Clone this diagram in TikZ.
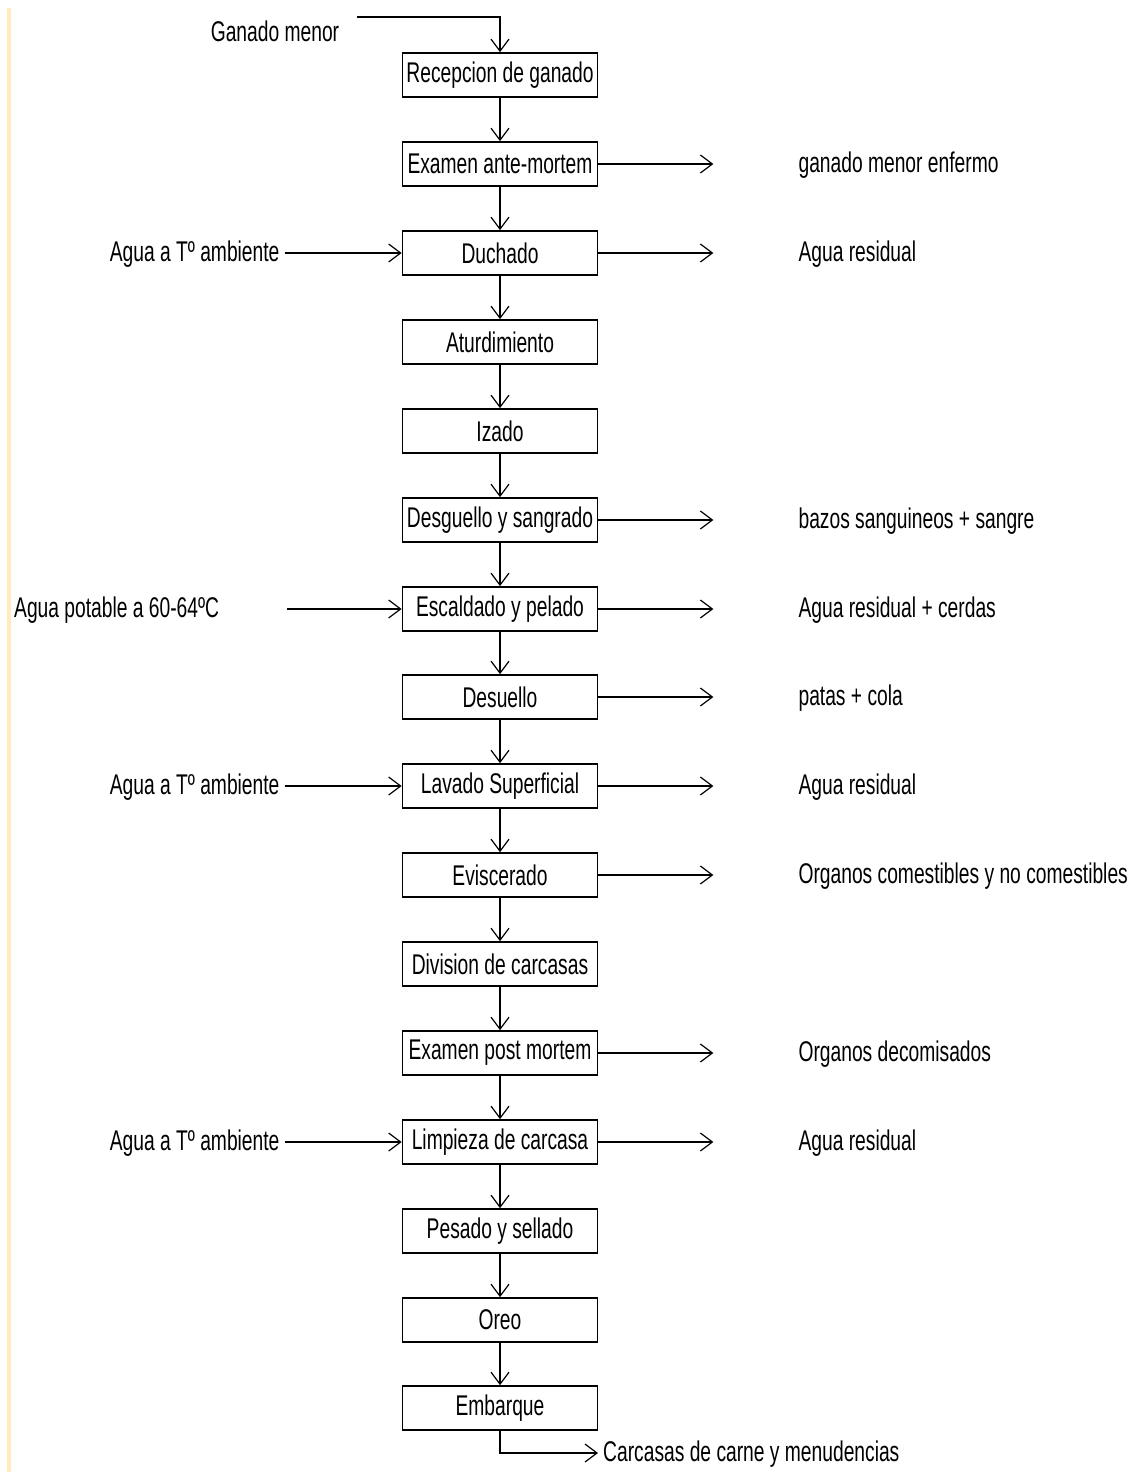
\documentclass[tikz,border=0pt]{standalone}
\usepackage{fontspec}
\setmainfont[FakeStretch=0.675]{Liberation Sans}
\usetikzlibrary{arrows.meta,calc}
\definecolor{edgeyellow}{HTML}{FFEDC0}
\begin{document}
\begin{tikzpicture}[x=1pt,y=-1pt,
  font=\fontsize{28.5}{32}\selectfont,
  proc/.style={draw, line width=1.7pt, minimum width=195pt, minimum height=44pt, inner sep=0pt, fill=white},
  flow/.style={line width=1.2pt, -{Straight Barb[length=12pt,width=18pt,line width=1.2pt]}},
  lab/.style={inner sep=0pt}]
\useasboundingbox (0,0) rectangle (1133,1472);
\fill[white] (0,0) rectangle (1133,1472);
\fill[edgeyellow] (6.5,8) rectangle (10.5,1472);
% process boxes
\node[proc] (b0)  at (500,75)   {Recepcion de ganado};
\node[proc] (b1)  at (500,164)  {Examen ante-mortem};
\node[proc] (b2)  at (500,253)  {Duchado};
\node[proc] (b3)  at (500,342)  {Aturdimiento};
\node[proc] (b4)  at (500,431)  {Izado};
\node[proc] (b5)  at (500,520)  {Desguello y sangrado};
\node[proc] (b6)  at (500,609)  {Escaldado y pelado};
\node[proc] (b7)  at (500,697)  {Desuello};
\node[proc] (b8)  at (500,786)  {Lavado Superficial};
\node[proc] (b9)  at (500,875)  {Eviscerado};
\node[proc] (b10) at (500,964)  {Division de carcasas};
\node[proc] (b11) at (500,1053) {Examen post mortem};
\node[proc] (b12) at (500,1142) {Limpieza de carcasa};
\node[proc] (b13) at (500,1231) {Pesado y sellado};
\node[proc] (b14) at (500,1320) {Oreo};
\node[proc] (b15) at (500,1408) {Embarque};
% vertical flow
\foreach \a/\b in {b0/b1,b1/b2,b2/b3,b3/b4,b4/b5,b5/b6,b6/b7,b7/b8,b8/b9,b9/b10,b10/b11,b11/b12,b12/b13,b13/b14,b14/b15}
  \draw[flow] (\a.south) -- (\b.north);
% top input
\node[lab] (gm) at (275,31) {Ganado menor};
\coordinate (gms) at (357,17);
\draw[flow] (gms) -- (b0.north |- gms) -- (b0.north);
% right outputs
\foreach \n/\t in {b1/ganado menor enfermo, b2/Agua residual, b5/bazos sanguineos + sangre, b6/Agua residual + cerdas, b7/patas + cola, b8/Agua residual, b9/Organos comestibles y no comestibles, b11/Organos decomisados, b12/Agua residual}{
  \coordinate (\n e) at ($(\n.east)+(115,0)$);
  \node[lab, anchor=west] (\n o) at ($(\n.east)+(200,1)$) {\t};
  \draw[flow] (\n.east) -- (\n e);
}
% left inputs
\foreach \n in {b2,b8,b12}{
  \node[lab, anchor=east] (\n i) at ($(\n.west)+(-122,1)$) {Agua a Tº ambiente};
  \draw[flow] ($(\n i.east)+(5,-1)$) -- (\n.west);
}
\node[lab, anchor=west] (b6i) at (14,610) {Agua potable a 60-64ºC};
\coordinate (b6s) at (287,609);
\draw[flow] (b6s) -- (b6.west);
% bottom output
\node[lab, anchor=west] (out) at (603,1454) {Carcasas de carne y menudencias};
\draw[flow] (b15.south) |- ($(out.west)+(-5,-1)$);
\end{tikzpicture}
\end{document}
